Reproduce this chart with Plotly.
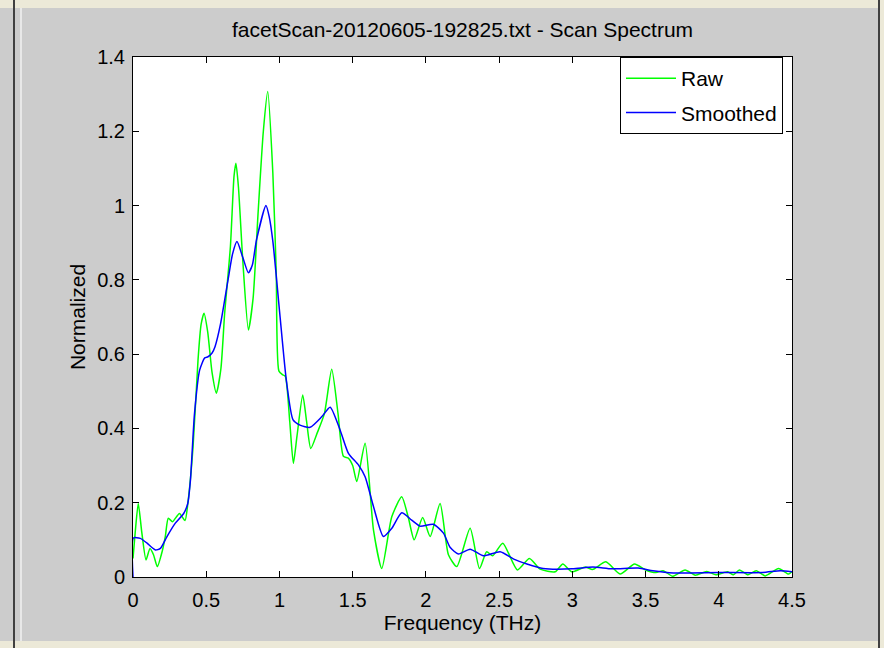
import plotly.graph_objects as go

# Spectrum samples: frequency (THz) and normalized amplitude
raw_freq = [0.000, 0.015, 0.036, 0.060, 0.089, 0.116, 0.140, 0.166, 0.200, 0.221,
            0.241, 0.270, 0.317, 0.355, 0.375, 0.410, 0.444, 0.465, 0.485, 0.510,
            0.540, 0.569, 0.600, 0.626, 0.665, 0.690, 0.703, 0.720, 0.750, 0.788,
            0.820, 0.854, 0.890, 0.920, 0.955, 0.978, 0.996, 1.020, 1.040, 1.070,
            1.095, 1.120, 1.159, 1.185, 1.214, 1.260, 1.307, 1.357, 1.400, 1.437,
            1.470, 1.500, 1.528, 1.585, 1.642, 1.699, 1.767, 1.835, 1.880, 1.920,
            1.978, 2.029, 2.097, 2.154, 2.211, 2.302, 2.366, 2.415, 2.456, 2.525,
            2.625, 2.707, 2.780, 2.883, 2.935, 2.996, 3.090, 3.138, 3.229, 3.326,
            3.425, 3.500, 3.571, 3.620, 3.686, 3.770, 3.840, 3.918, 3.980, 4.060,
            4.100, 4.141, 4.200, 4.256, 4.317, 4.408, 4.476, 4.500]
raw_vals = [0.050, 0.120, 0.198, 0.120, 0.046, 0.077, 0.060, 0.028, 0.070, 0.110,
            0.158, 0.149, 0.171, 0.152, 0.200, 0.350, 0.584, 0.680, 0.710, 0.660,
            0.550, 0.495, 0.560, 0.710, 0.889, 1.080, 1.114, 1.050, 0.850, 0.665,
            0.750, 0.979, 1.200, 1.307, 1.087, 0.820, 0.555, 0.545, 0.540, 0.420,
            0.306, 0.380, 0.490, 0.420, 0.346, 0.390, 0.440, 0.559, 0.440, 0.325,
            0.320, 0.300, 0.257, 0.360, 0.127, 0.023, 0.162, 0.216, 0.160, 0.100,
            0.160, 0.109, 0.198, 0.060, 0.028, 0.131, 0.023, 0.068, 0.057, 0.091,
            0.019, 0.050, 0.021, 0.014, 0.035, 0.014, 0.027, 0.020, 0.041, 0.008,
            0.035, 0.019, 0.012, 0.017, 0.002, 0.019, 0.005, 0.015, 0.006, 0.014,
            0.006, 0.019, 0.006, 0.017, 0.003, 0.023, 0.008, 0.015]

smooth_freq = [0.000, 0.003, 0.050, 0.096, 0.153, 0.187, 0.232, 0.289, 0.346, 0.374,
               0.392, 0.420, 0.455, 0.490, 0.512, 0.540, 0.560, 0.597, 0.649, 0.680,
               0.710, 0.750, 0.788, 0.815, 0.843, 0.908, 0.930, 0.956, 1.002, 1.047,
               1.093, 1.140, 1.209, 1.290, 1.346, 1.414, 1.471, 1.539, 1.585, 1.642,
               1.710, 1.767, 1.835, 1.903, 1.960, 2.051, 2.120, 2.165, 2.222, 2.302,
               2.393, 2.507, 2.600, 2.690, 2.800, 3.000, 3.140, 3.270, 3.450, 3.550,
               3.690, 4.000, 4.300, 4.420, 4.500]
smooth_vals = [0.000, 0.105, 0.104, 0.091, 0.073, 0.077, 0.109, 0.145, 0.171, 0.198,
               0.260, 0.440, 0.557, 0.590, 0.593, 0.603, 0.620, 0.680, 0.800, 0.870,
               0.903, 0.860, 0.819, 0.840, 0.907, 1.000, 0.970, 0.900, 0.710, 0.530,
               0.423, 0.409, 0.403, 0.432, 0.457, 0.396, 0.333, 0.302, 0.270, 0.190,
               0.109, 0.131, 0.173, 0.153, 0.137, 0.142, 0.118, 0.080, 0.062, 0.075,
               0.057, 0.068, 0.048, 0.035, 0.023, 0.022, 0.027, 0.022, 0.024, 0.017,
               0.011, 0.012, 0.012, 0.017, 0.014]

x_ticks = [0, 0.5, 1, 1.5, 2, 2.5, 3, 3.5, 4, 4.5]
x_tick_text = ["0", "0.5", "1", "1.5", "2", "2.5", "3", "3.5", "4", "4.5"]
y_ticks = [0, 0.2, 0.4, 0.6, 0.8, 1.0, 1.2, 1.4]
y_tick_text = ["0", "0.2", "0.4", "0.6", "0.8", "1", "1.2", "1.4"]

W, H = 884, 648
L, R, T, B = 133, 92, 57, 71
FONT = "Liberation Sans, Arial, sans-serif"
BG = "#cccccc"
TEXT_SIZE = 21
TICK_SIZE = 20


def px_x(p):
    return (p - L) / (W - L - R)


def px_y(p):
    return (H - B - p) / (H - T - B)


fig = go.Figure()
fig.add_trace(go.Scatter(x=raw_freq, y=raw_vals, mode="lines", name="Raw",
                         legendgroup="raw",
                         line=dict(color="#00ff00", width=1.5, shape="spline", smoothing=0.6)))
fig.add_trace(go.Scatter(x=smooth_freq, y=smooth_vals, mode="lines", name="Smoothed",
                         legendgroup="smooth",
                         line=dict(color="#0000ff", width=1.5, shape="spline", smoothing=0.6)))

axis_common = dict(
    showline=True, linecolor="black", linewidth=1, mirror="allticks",
    ticks="inside", ticklen=6, tickcolor="black", tickwidth=1,
    showgrid=False, zeroline=False,
    tickfont=dict(family=FONT, size=TICK_SIZE, color="black"),
)

fig.update_xaxes(range=[0, 4.5], tickvals=x_ticks, ticktext=x_tick_text,
                 title=dict(text="Frequency (THz)",
                            font=dict(family=FONT, size=TEXT_SIZE, color="black"),
                            standoff=1),
                 ticklabelstandoff=5, **axis_common)
fig.update_yaxes(range=[0, 1.4], tickvals=y_ticks, ticktext=y_tick_text,
                 title=dict(text="Normalized",
                            font=dict(family=FONT, size=TEXT_SIZE, color="black"),
                            standoff=5),
                 ticklabelstandoff=3, **axis_common)

# window frame decorations around the figure canvas
shapes = [
    dict(type="rect", xref="paper", yref="paper", x0=px_x(0), x1=px_x(W), y0=px_y(8), y1=px_y(0),
         fillcolor="#ece9d8", line=dict(width=0), layer="below"),
    dict(type="rect", xref="paper", yref="paper", x0=px_x(0), x1=px_x(W), y0=px_y(H), y1=px_y(641),
         fillcolor="#ece9d8", line=dict(width=0), layer="below"),
    dict(type="line", xref="paper", yref="paper", x0=px_x(14), x1=px_x(14), y0=px_y(H), y1=px_y(0),
         line=dict(color="#404040", width=2)),
    dict(type="line", xref="paper", yref="paper", x0=px_x(21), x1=px_x(21), y0=px_y(641), y1=px_y(8),
         line=dict(color="#e8e8e8", width=2)),
    dict(type="line", xref="paper", yref="paper", x0=px_x(879), x1=px_x(879), y0=px_y(H), y1=px_y(0),
         line=dict(color="#404040", width=2)),
    dict(type="rect", xref="paper", yref="paper", x0=px_x(880), x1=px_x(W), y0=px_y(H), y1=px_y(0),
         fillcolor="#ece9d8", line=dict(width=0), layer="below"),
]

fig.update_layout(
    width=W, height=H,
    margin=dict(l=L, r=R, t=T, b=B, pad=0),
    paper_bgcolor=BG, plot_bgcolor="white",
    title=dict(text="facetScan-20120605-192825.txt - Scan Spectrum",
               font=dict(family=FONT, size=TEXT_SIZE, color="black"),
               x=0.5, xref="paper", xanchor="center", y=1 - 30 / H, yanchor="middle"),
    legend=dict(x=px_x(620), y=px_y(57), xanchor="left", yanchor="top",
                bgcolor="white", bordercolor="black", borderwidth=1,
                font=dict(family=FONT, size=TEXT_SIZE, color="black"),
                tracegroupgap=4, itemwidth=50),
    showlegend=True,
    shapes=shapes,
)

fig.write_html("out.html")
